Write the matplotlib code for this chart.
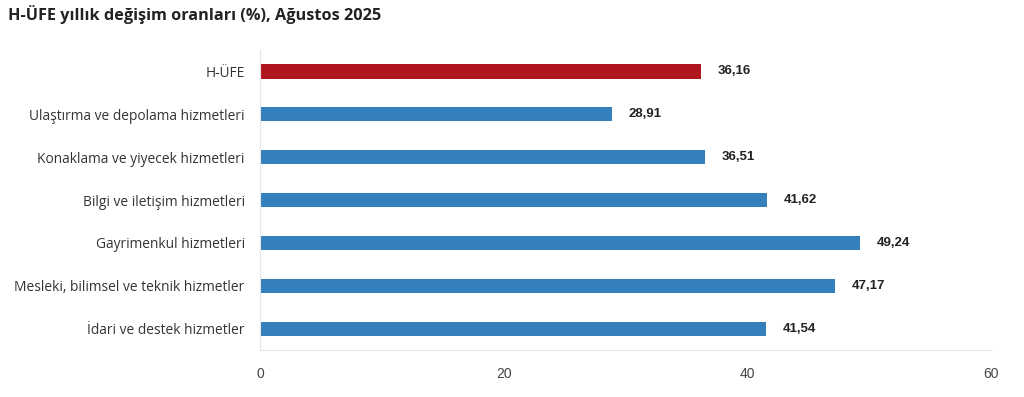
import matplotlib
matplotlib.use('Agg')
import matplotlib.pyplot as plt

categories = ['H-ÜFE', 'Ulaştırma ve depolama hizmetleri', 'Konaklama ve yiyecek hizmetleri',
              'Bilgi ve iletişim hizmetleri', 'Gayrimenkul hizmetleri',
              'Mesleki, bilimsel ve teknik hizmetler', 'İdari ve destek hizmetler']
values = [36.16, 28.91, 36.51, 41.62, 49.24, 47.17, 41.54]
xticks = [0, 20, 40, 60]

red = '#B0161E'
blue = '#3380BC'
colors = [red] + [blue] * (len(values) - 1)

fig = plt.figure(figsize=(10.24, 3.97), dpi=100)
ax = fig.add_axes([260/1024, 1 - 350/397, (991 - 260)/1024, 300/397])

ypos = list(range(len(values)))
ax.barh(ypos, values, height=0.33, color=colors, edgecolor='none')
ax.set_ylim(len(values) - 0.5, -0.5)
ax.set_xlim(0, 60)

for y, v in zip(ypos, values):
    ax.annotate(('%.2f' % v).replace('.', ','), (v, y), xytext=(12, 0), textcoords='offset points',
                va='center', ha='left', fontsize=9.5, fontweight='bold', color='#222222',
                family=['Liberation Sans', 'DejaVu Sans'])

ax.set_yticks(ypos)
ax.set_yticklabels(categories, fontsize=9.9, color='#333333', family=['Open Sans', 'DejaVu Sans'])
ax.set_xticks(xticks)
ax.set_xticklabels([str(t) for t in xticks], fontsize=10, color='#444444',
                   family=['Liberation Sans', 'DejaVu Sans'])
ax.tick_params(axis='y', length=0, pad=11)
ax.tick_params(axis='x', length=0, pad=12)

for s in ['top', 'right']:
    ax.spines[s].set_visible(False)
ax.spines['left'].set_color('#e6e6e6')
ax.spines['bottom'].set_color('#e6e6e6')

fig.text(8/1024, 1 - 15/397, 'H-ÜFE yıllık değişim oranları (%), Ağustos 2025', fontsize=11.7,
         fontweight='bold', color='#222222', va='center', ha='left', family=['Open Sans', 'DejaVu Sans'])

fig.savefig('out.png', dpi=100)
